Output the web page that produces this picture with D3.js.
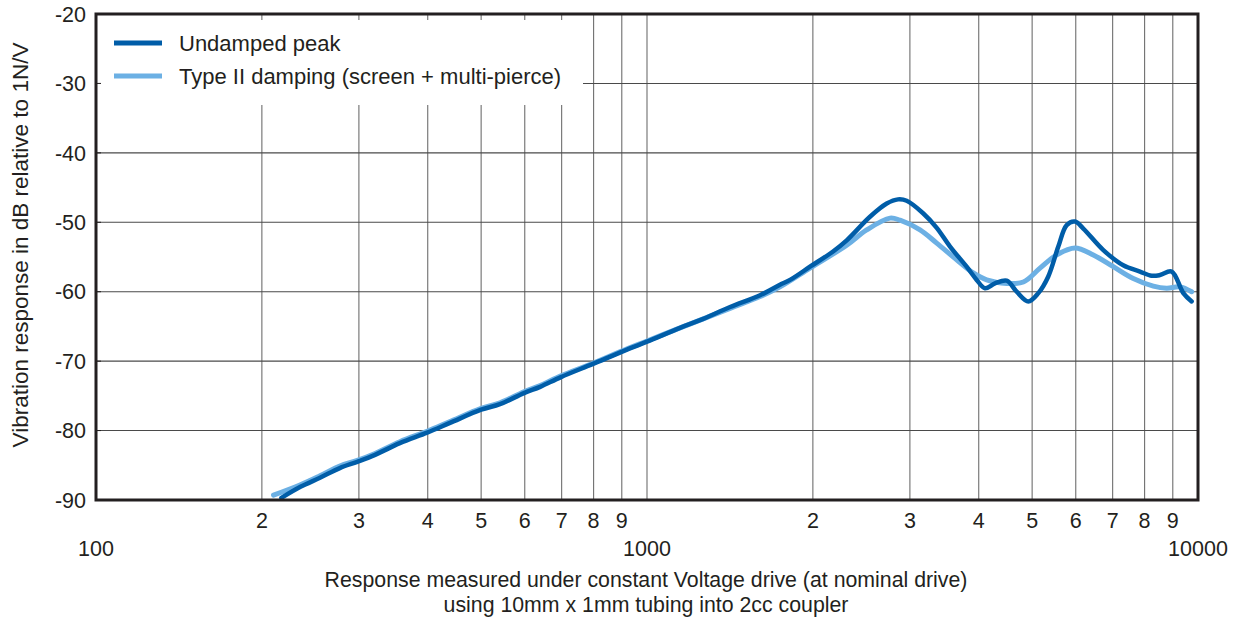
<!DOCTYPE html>
<html>
<head>
<meta charset="utf-8">
<script src="https://cdn.jsdelivr.net/npm/d3@7"></script>
<style>
  html, body { margin: 0; padding: 0; background: #fff; }
  svg { display: block; font-family: "Liberation Sans", Arial, sans-serif; }
</style>
</head>
<body>
<div id="chart"></div>
<script>
// ---- Data ----
const seriesNames = ["Undamped peak", "Type II damping (screen + multi-pierce)"];

const freqUndamped = [217, 235, 255, 277, 298, 321, 356, 399, 439, 500, 541, 598, 640, 698, 798, 897, 1000, 1148, 1248, 1415, 1604, 1743, 1818, 1976, 2176, 2304, 2539, 2723, 2855, 2960, 3170, 3356, 3548, 3803, 3966, 4106, 4281, 4496, 4688, 4921, 5131, 5349, 5578, 5777, 5981, 6192, 6732, 7317, 7847, 8241, 8531, 8958, 9405, 9739];
const dbUndamped   = [-89.7, -88.1, -86.8, -85.4, -84.5, -83.5, -81.8, -80.3, -78.9, -77.0, -76.2, -74.6, -73.7, -72.3, -70.4, -68.7, -67.2, -65.2, -64.1, -62.2, -60.5, -59.0, -58.3, -56.4, -54.2, -52.6, -49.2, -47.3, -46.7, -46.9, -48.7, -50.8, -53.5, -56.4, -58.3, -59.5, -58.8, -58.4, -60.0, -61.4, -60.2, -57.8, -53.5, -50.4, -49.9, -50.9, -54.0, -56.2, -57.1, -57.7, -57.6, -57.1, -60.2, -61.4];

const freqDamped = [210, 235, 255, 277, 298, 321, 356, 399, 439, 500, 541, 598, 640, 698, 798, 897, 1000, 1148, 1248, 1415, 1604, 1743, 1976, 2304, 2504, 2761, 2879, 3130, 3356, 3648, 3910, 4135, 4496, 4819, 5167, 5540, 5981, 6457, 7020, 7631, 8297, 8773, 9275, 9739];
const dbDamped   = [-89.3, -87.8, -86.5, -85.1, -84.3, -83.3, -81.6, -80.1, -78.7, -76.8, -76.0, -74.4, -73.5, -72.1, -70.3, -68.6, -67.1, -65.2, -64.1, -62.4, -60.7, -59.3, -56.6, -53.3, -51.1, -49.4, -49.7, -51.1, -53.0, -55.4, -57.3, -58.3, -58.8, -58.6, -56.6, -54.7, -53.7, -54.7, -56.4, -58.1, -59.2, -59.5, -59.3, -60.0];

const yTicks = [-90, -80, -70, -60, -50, -40, -30, -20];
const xMajorTicks = [100, 1000, 10000];
const xMinorTicks = [200, 300, 400, 500, 600, 700, 800, 900, 2000, 3000, 4000, 5000, 6000, 7000, 8000, 9000];
const xMinorLabels = ["2", "3", "4", "5", "6", "7", "8", "9", "2", "3", "4", "5", "6", "7", "8", "9"];
const xTitleLines = ["Response measured under constant Voltage drive (at nominal drive)", "using 10mm x 1mm tubing into 2cc coupler"];
const yTitle = "Vibration response in dB relative to 1N/V";

// ---- Layout ----
const W = 1236, H = 619;
const L = 96, R = 1198, T = 14, B = 500;
const colors = ["#005da8", "#6cb0e4"];
const ink = "#231f20";

const svg = d3.select("#chart").append("svg").attr("width", W).attr("height", H);

const x = d3.scaleLog().domain([100, 10000]).range([L, R]);
const y = d3.scaleLinear().domain([-90, -20]).range([B, T]);

// gridlines
const grid = svg.append("g");
grid.selectAll("line.v").data(xMinorTicks.concat([1000])).join("line")
  .attr("x1", d => x(d)).attr("x2", d => x(d)).attr("y1", T).attr("y2", B)
  .attr("stroke", "#6e6e6e").attr("stroke-width", 1.1);
grid.selectAll("line.h").data(yTicks.slice(1, -1)).join("line")
  .attr("x1", L).attr("x2", R).attr("y1", d => y(d)).attr("y2", d => y(d))
  .attr("stroke", "#4a4a4a").attr("stroke-width", 1.1);

// legend backdrop (hides grid)
svg.append("rect").attr("x", L + 1.5).attr("y", T + 6).attr("width", 583 - L - 1.5).attr("height", 105 - T - 6).attr("fill", "#fff");

// y ticks (inside)
svg.append("g").selectAll("line").data(yTicks).join("line")
  .attr("x1", L).attr("x2", L + 5).attr("y1", d => y(d)).attr("y2", d => y(d))
  .attr("stroke", ink).attr("stroke-width", 1);

// lines
const line = d3.line().x(d => x(d[0])).y(d => y(d[1])).curve(d3.curveCatmullRom.alpha(0.5));
const dataDamped = freqDamped.map((f, i) => [f, dbDamped[i]]);
const dataUndamped = freqUndamped.map((f, i) => [f, dbUndamped[i]]);
svg.append("path").datum(dataDamped).attr("d", line).attr("fill", "none")
  .attr("stroke", colors[1]).attr("stroke-width", 5).attr("stroke-linejoin", "round").attr("stroke-linecap", "round");
svg.append("path").datum(dataUndamped).attr("d", line).attr("fill", "none")
  .attr("stroke", colors[0]).attr("stroke-width", 4.5).attr("stroke-linejoin", "round").attr("stroke-linecap", "round");

// frame
svg.append("rect").attr("x", L).attr("y", T).attr("width", R - L).attr("height", B - T)
  .attr("fill", "none").attr("stroke", ink).attr("stroke-width", 3);

// y labels
svg.append("g").selectAll("text").data(yTicks).join("text")
  .attr("x", 86).attr("y", d => y(d)).attr("dy", "0.36em").attr("text-anchor", "end")
  .attr("font-size", 21.5).attr("fill", ink).text(d => d);

// x minor labels
svg.append("g").selectAll("text").data(xMinorTicks).join("text")
  .attr("x", d => x(d)).attr("y", 528).attr("text-anchor", "middle")
  .attr("font-size", 21.5).attr("fill", ink).text((d, i) => xMinorLabels[i]);

// x major labels
svg.append("g").selectAll("text").data(xMajorTicks).join("text")
  .attr("x", d => x(d)).attr("y", 556).attr("text-anchor", "middle")
  .attr("font-size", 21.5).attr("fill", ink).text(d => d);

// x title
svg.append("g").selectAll("text").data(xTitleLines).join("text")
  .attr("x", 646).attr("y", (d, i) => 587 + i * 25).attr("text-anchor", "middle")
  .attr("font-size", 21.3).attr("fill", ink).text(d => d);

// y title
svg.append("text").attr("transform", "translate(28,245) rotate(-90)")
  .attr("text-anchor", "middle").attr("font-size", 22.5).attr("fill", ink).text(yTitle);

// legend
const lg = svg.append("g");
seriesNames.forEach((name, i) => {
  const ly = 43 + i * 33;
  lg.append("line").attr("x1", 114).attr("x2", 162).attr("y1", ly).attr("y2", ly)
    .attr("stroke", colors[i]).attr("stroke-width", 5);
  lg.append("text").attr("x", 179).attr("y", ly).attr("dy", "0.36em")
    .attr("font-size", 22).attr("fill", ink).text(name);
});
</script>
</body>
</html>
